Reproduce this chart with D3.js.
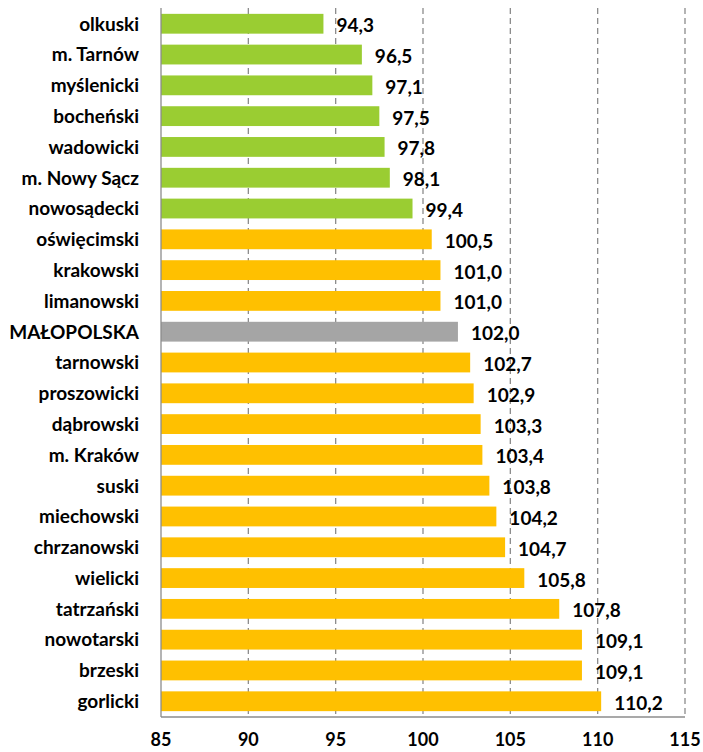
<!DOCTYPE html>
<html><head><meta charset="utf-8">
<script src="https://cdn.jsdelivr.net/npm/d3@7"></script>
<style>body{margin:0;background:#fff}svg{display:block}text{font-family:Lato,"Open Sans",sans-serif;font-weight:bold;fill:#000}</style>
</head><body><svg id="c" width="703" height="752"></svg>
<script>
const categories = ["olkuski","m. Tarnów","myślenicki","bocheński","wadowicki","m. Nowy Sącz","nowosądecki","oświęcimski","krakowski","limanowski","MAŁOPOLSKA","tarnowski","proszowicki","dąbrowski","m. Kraków","suski","miechowski","chrzanowski","wielicki","tatrzański","nowotarski","brzeski","gorlicki"];
const values = [94.3,96.5,97.1,97.5,97.8,98.1,99.4,100.5,101.0,101.0,102.0,102.7,102.9,103.3,103.4,103.8,104.2,104.7,105.8,107.8,109.1,109.1,110.2];
const ticks = [85,90,95,100,105,110,115];
const svg = d3.select("#c");
const x = d3.scaleLinear().domain([85,115]).range([161,685]);
const y = d3.scaleBand().domain(categories).range([8,717]).paddingInner(0.357).paddingOuter(0.19);
const color = (c,v) => c==="MAŁOPOLSKA" ? "#A5A5A5" : (v<100 ? "#9ACD32" : "#FFC000");
svg.append("g").selectAll("line").data(ticks.slice(1)).join("line")
 .attr("x1",d=>x(d)).attr("x2",d=>x(d)).attr("y1",8).attr("y2",717)
 .attr("stroke","#8c8c8c").attr("stroke-width",1.3).attr("stroke-dasharray","6,4");
svg.append("g").selectAll("rect").data(categories).join("rect")
 .attr("x",x(85)).attr("y",d=>y(d)).attr("height",y.bandwidth())
 .attr("width",(d,i)=>x(values[i])-x(85)).attr("fill",(d,i)=>color(d,values[i]));
svg.append("line").attr("x1",x(85)).attr("x2",x(85)).attr("y1",8).attr("y2",717).attr("stroke","#8c8c8c").attr("stroke-width",1.3);
svg.append("line").attr("x1",x(85)).attr("x2",x(115)).attr("y1",717).attr("y2",717).attr("stroke","#8c8c8c").attr("stroke-width",1.3);
svg.append("g").selectAll("text").data(categories).join("text")
 .attr("x",139).attr("y",d=>y(d)+y.bandwidth()/2).attr("dy","0.36em")
 .attr("text-anchor","end").attr("font-size",19).text(d=>d);
svg.append("g").selectAll("text").data(values).join("text")
 .attr("x",d=>x(d)+13).attr("y",(d,i)=>y(categories[i])+y.bandwidth()/2).attr("dy","0.45em")
 .attr("font-size",19).text(d=>d3.format(".1f")(d).replace(".",","));
svg.append("g").selectAll("text").data(ticks).join("text")
 .attr("x",d=>x(d)).attr("y",740).attr("dy","0.36em").attr("text-anchor","middle")
 .attr("font-size",18).text(d=>d);
</script></body></html>
